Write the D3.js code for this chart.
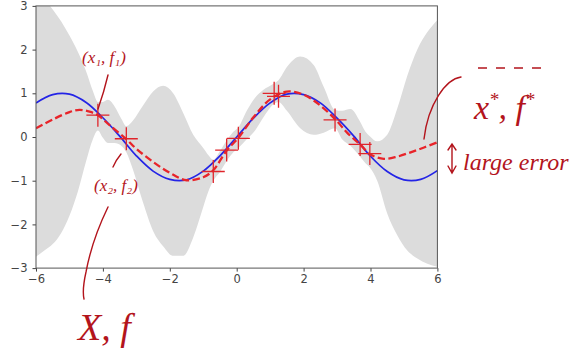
<!DOCTYPE html>
<html><head><meta charset="utf-8">
<script src="https://cdn.jsdelivr.net/npm/d3@7"></script>
<style>
html,body{margin:0;padding:0;background:#fff;}
svg{display:block;}
.hand{font-family:"Liberation Serif","DejaVu Serif",serif;font-style:italic;fill:#b3141c;}
</style></head>
<body><svg id="c" width="586" height="359"></svg>
<script>
// ---- data ----
const xTicks = [-6, -4, -2, 0, 2, 4, 6];
const yTicks = [-3, -2, -1, 0, 1, 2, 3];

// observed training points (red +)
const obsX = [-4.15, -3.3, -0.70, -0.30, 0.05, 1.12, 1.25, 2.94, 3.69, 3.98];
const obsY = [0.50, -0.04, -0.79, -0.30, -0.03, 1.00, 0.93, 0.39, -0.17, -0.38];

// true function (blue)
const trueX = [-6, -5.5, -5, -4.5, -4, -3.5, -3, -2.5, -2, -1.5, -1, -0.5, 0, 0.5, 1, 1.5, 2, 2.5, 3, 3.5, 4, 4.5, 5, 5.5, 6];
const trueY = [0.78, 0.97, 0.98, 0.79, 0.44, 0.02, -0.43, -0.78, -0.97, -0.98, -0.78, -0.43, 0.0, 0.43, 0.78, 0.98, 0.97, 0.78, 0.43, 0.02, -0.44, -0.79, -0.98, -0.97, -0.77];

// predictive mean (red dashed)
const meanX = [-6, -5.5, -5, -4.7, -4.4, -4.15, -3.8, -3.3, -3.0, -2.5, -2.0, -1.5, -1.0, -0.7, -0.3, 0.05, 0.5, 1.0, 1.5, 2.0, 2.5, 2.94, 3.3, 3.69, 4.0, 4.4, 4.8, 5.2, 5.6, 6.0];
const meanY = [0.2, 0.4, 0.57, 0.62, 0.58, 0.5, 0.27, -0.05, -0.27, -0.57, -0.82, -0.99, -0.92, -0.76, -0.31, -0.02, 0.45, 0.86, 1.04, 0.97, 0.72, 0.41, 0.1, -0.17, -0.4, -0.5, -0.45, -0.35, -0.24, -0.12];

// uncertainty band (grey)
const bandX =     [-6, -5.75, -5.5, -5.25, -5, -4.75, -4.5, -4.3, -4.15, -4.0, -3.85, -3.65, -3.45, -3.3, -3.1, -2.8, -2.5, -2.2, -1.9, -1.6, -1.3, -1.0, -0.85, -0.7, -0.5, -0.3, -0.1, 0.05, 0.3, 0.55, 0.8, 1.1, 1.25, 1.5, 1.9, 2.3, 2.6, 2.94, 3.15, 3.4, 3.69, 3.85, 3.98, 4.2, 4.5, 4.8, 5.1, 5.4, 5.7, 6.0];
const bandUpper = [3.35, 3.15, 2.92, 2.65, 2.32, 1.95, 1.5, 1.05, 0.8, 0.8, 0.85, 0.7, 0.42, 0.25, 0.38, 0.72, 1.04, 1.17, 1.0, 0.55, 0.05, -0.25, -0.41, -0.52, -0.32, -0.08, 0.12, 0.22, 0.6, 0.9, 1.08, 1.22, 1.3, 1.6, 1.84, 1.65, 1.15, 0.62, 0.6, 0.64, 0.35, 0.12, 0.02, -0.1, 0.05, 0.65, 1.4, 2.0, 2.4, 2.68];
const bandLower = [-2.74, -2.6, -2.45, -2.2, -1.8, -1.25, -0.55, -0.05, 0.15, -0.02, -0.14, -0.14, -0.2, -0.35, -0.75, -1.5, -2.15, -2.5, -2.72, -2.72, -2.3, -1.6, -1.25, -1.0, -0.8, -0.55, -0.35, -0.25, -0.05, 0.15, 0.45, 0.75, 0.8, 0.6, 0.2, 0.05, 0.1, 0.2, -0.05, -0.2, -0.45, -0.6, -0.7, -1.0, -1.75, -2.25, -2.6, -2.78, -2.9, -2.97];

// ---- drawing ----
const W = 586, H = 359;
const m = {left: 36, right: 437.4, top: 5.9, bottom: 268.1};
const svg = d3.select("#c");
const x = d3.scaleLinear().domain([-6, 6]).range([m.left, m.right]);
const y = d3.scaleLinear().domain([-3, 3]).range([m.bottom, m.top]);

svg.append("defs").append("clipPath").attr("id", "clip")
  .append("rect").attr("x", m.left).attr("y", m.top)
  .attr("width", m.right - m.left).attr("height", m.bottom - m.top);

const plot = svg.append("g").attr("clip-path", "url(#clip)");

const band = bandX.map((v, i) => ({x: v, u: bandUpper[i], l: bandLower[i]}));
plot.append("path").datum(band)
  .attr("d", d3.area().x(d => x(d.x)).y0(d => y(d.l)).y1(d => y(d.u)).curve(d3.curveMonotoneX))
  .attr("fill", "#dcdcdc");

const tr = trueX.map((v, i) => [v, trueY[i]]);
plot.append("path").datum(tr)
  .attr("d", d3.line().x(d => x(d[0])).y(d => y(d[1])).curve(d3.curveCatmullRom))
  .attr("fill", "none").attr("stroke", "#2424e6").attr("stroke-width", 1.7);

const mn = meanX.map((v, i) => [v, meanY[i]]);
plot.append("path").datum(mn)
  .attr("d", d3.line().x(d => x(d[0])).y(d => y(d[1])).curve(d3.curveCatmullRom))
  .attr("fill", "none").attr("stroke", "#e8242a").attr("stroke-width", 2.3)
  .attr("stroke-dasharray", "7.4,3.4");

const ms = 11.5;
const obs = obsX.map((v, i) => [v, obsY[i]]);
const mk = plot.selectAll("g.mk").data(obs).join("g").attr("class", "mk")
  .attr("transform", d => `translate(${x(d[0])},${y(d[1])})`);
mk.append("path").attr("d", `M${-ms},0H${ms}M0,${-ms}V${ms}`)
  .attr("stroke", "#e0242a").attr("stroke-width", 1.3).attr("fill", "none");

// axes
const ax = svg.append("g").attr("transform", `translate(0,${m.bottom})`)
  .call(d3.axisBottom(x).tickValues(xTicks).tickSize(3.5).tickPadding(3).tickFormat(d3.format("")));
const ay = svg.append("g").attr("transform", `translate(${m.left},0)`)
  .call(d3.axisLeft(y).tickValues(yTicks).tickSize(3.5).tickPadding(5).tickFormat(d3.format("")));
[ax, ay].forEach(a => {
  a.select(".domain").remove();
  a.selectAll("line").attr("stroke", "#444").attr("stroke-width", 1);
  a.selectAll("text").attr("font-family", "DejaVu Sans").attr("font-size", 11.5).attr("fill", "#444");
});
svg.append("rect").attr("x", m.left).attr("y", m.top)
  .attr("width", m.right - m.left).attr("height", m.bottom - m.top)
  .attr("fill", "none").attr("stroke", "#555").attr("stroke-width", 1);

// handwritten annotations
const ink = "#b3141c";
const paths = [
  "M108,75 Q104,92 98,109",
  "M121,154 Q116,160 113,167",
  "M108,207 Q92,240 86,272 Q82,290 84,299",
  "M461,77 C446,79 428,104 424,139",
  "M452,146 V172 M448,166 L452,173 L456,166 M448,150 L452,144 L456,150"
];
svg.selectAll("path.ink").data(paths).join("path").attr("class", "ink")
  .attr("d", d => d).attr("fill", "none").attr("stroke", ink)
  .attr("stroke-width", 1.4).attr("stroke-linecap", "round");
svg.append("path").attr("d", "M478,68 H545").attr("stroke", ink)
  .attr("stroke-width", 1.5).attr("stroke-dasharray", "9,9").attr("fill", "none");

const hand = svg.append("g");
hand.append("text").attr("class", "hand").attr("x", 82).attr("y", 63).attr("font-size", 17).text("(x₁, f₁)");
hand.append("text").attr("class", "hand").attr("x", 94).attr("y", 191).attr("font-size", 17).text("(x₂, f₂)");
hand.append("text").attr("class", "hand").attr("x", 78).attr("y", 340).attr("font-size", 38).text("X, f");
const xs = hand.append("text").attr("class", "hand").attr("x", 474).attr("y", 119).attr("font-size", 34);
xs.append("tspan").text("x");
xs.append("tspan").attr("dy", -13).attr("font-size", 19).text("*");
xs.append("tspan").attr("dy", 13).text(", f");
xs.append("tspan").attr("dy", -13).attr("font-size", 19).text("*");
hand.append("text").attr("class", "hand").attr("x", 463).attr("y", 170).attr("font-size", 24).text("large error");
</script></body></html>
